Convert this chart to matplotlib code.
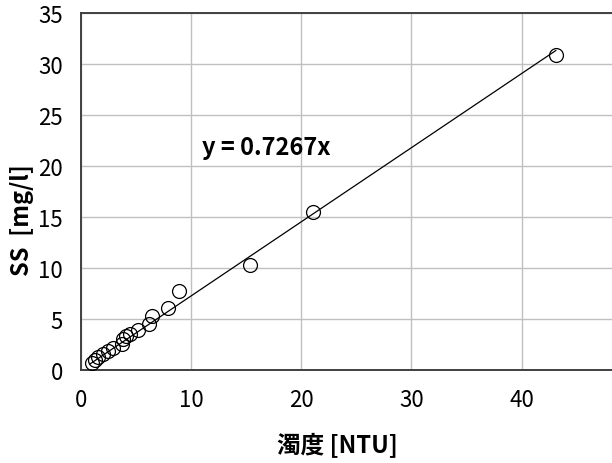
import numpy as np
import matplotlib
matplotlib.use('Agg')
import matplotlib.pyplot as plt

plt.rcParams['font.family'] = ['Noto Sans CJK JP', 'DejaVu Sans']

# turbidity [NTU] vs suspended solids [mg/l]
turbidity = [43.1, 21.1, 15.3, 8.9, 7.9, 6.4, 6.2, 5.2, 4.45, 4.1, 3.84,
             3.7, 2.93, 2.48, 2.03, 1.57, 1.3, 0.97]
ss = [30.9, 15.5, 10.3, 7.7, 6.1, 5.3, 4.5, 3.9, 3.55, 3.3, 3.0,
      2.55, 2.2, 1.9, 1.57, 1.24, 1.0, 0.7]
slope = 0.7267

xticks = [0, 10, 20, 30, 40]
yticks = [0, 5, 10, 15, 20, 25, 30, 35]

fig = plt.figure(figsize=(6.12, 4.64), dpi=100)
ax = fig.add_axes([81 / 612, 93 / 464, 531 / 612, 357 / 464])

ax.grid(True, color='#c0c0c0', lw=1.0)
ax.set_axisbelow(True)

xfit = np.array([min(turbidity) * 0.85, max(turbidity)])
ax.plot(xfit, slope * xfit, color='black', lw=0.9, zorder=2)
ax.plot(turbidity, ss, 'o', ms=10, mfc='none', mec='black', mew=0.9,
        zorder=3)

ax.text(16.8, 21.9, 'y = {}x'.format(slope), fontsize=17, fontweight='bold',
        ha='center', va='center')

ax.set_xlim(0, 48.2)
ax.set_ylim(0, 35)
ax.set_xticks(xticks)
ax.set_yticks(yticks)
ax.tick_params(axis='both', length=0, labelsize=16)
ax.tick_params(axis='x', pad=13)
ax.tick_params(axis='y', pad=13)

for side in ['left', 'bottom', 'top']:
    ax.spines[side].set_color('#404040')
    ax.spines[side].set_linewidth(1.4)
ax.spines['right'].set_visible(False)

fig.text(337 / 612, 1 - 446 / 464, '濁度 [NTU]', fontsize=17,
         fontweight='bold', ha='center', va='center')
fig.text(22 / 612, 1 - 220 / 464, 'SS  [mg/l]', fontsize=17,
         fontweight='bold', ha='center', va='center', rotation=90)

fig.savefig('out.png', dpi=100)
